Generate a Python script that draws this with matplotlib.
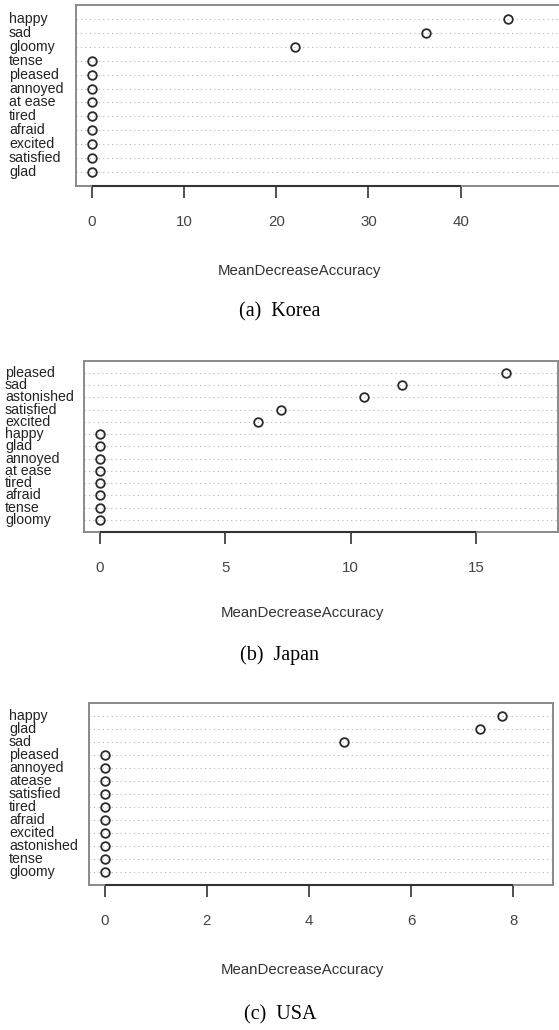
import matplotlib
matplotlib.use("Agg")
import matplotlib.pyplot as plt
from matplotlib.transforms import blended_transform_factory

# ---------------- data (top to bottom as displayed) ----------------
korea_labels = ["happy", "sad", "gloomy", "tense", "pleased", "annoyed",
                "at ease", "tired", "afraid", "excited", "satisfied", "glad"]
korea_values = [45.2, 36.3, 22.0, 0, 0, 0, 0, 0, 0, 0, 0, 0]
korea_ticks = [0, 10, 20, 30, 40]

japan_labels = ["pleased", "sad", "astonished", "satisfied", "excited", "happy",
                "glad", "annoyed", "at ease", "tired", "afraid", "tense", "gloomy"]
japan_values = [16.2, 12.05, 10.55, 7.23, 6.32, 0, 0, 0, 0, 0, 0, 0, 0]
japan_ticks = [0, 5, 10, 15]

usa_labels = ["happy", "glad", "sad", "pleased", "annoyed", "atease", "satisfied",
              "tired", "afraid", "excited", "astonished", "tense", "gloomy"]
usa_values = [7.78, 7.35, 4.68, 0, 0, 0, 0, 0, 0, 0, 0, 0, 0]
usa_ticks = [0, 2, 4, 6, 8]

captions = ["(a)  Korea", "(b)  Japan", "(c)  USA"]
xlabel = "MeanDecreaseAccuracy"

# ---------------- layout ----------------
W, H = 559, 1030
fig = plt.figure(figsize=(W / 100, H / 100), dpi=100)
fig.patch.set_facecolor("white")

SANS = ["Liberation Sans", "DejaVu Sans"]
SERIF = ["Liberation Serif", "DejaVu Serif"]

panels = [
    dict(labels=korea_labels, values=korea_values, ticks=korea_ticks,
         box=(76, 561, 5, 186), xlim=(-1.74, 50.9), lab_x=9,
         xl_y=271, cap_y=312, xl_x=299),
    dict(labels=japan_labels, values=japan_values, ticks=japan_ticks,
         box=(84, 558, 360.7, 532), xlim=(-0.638, 18.27), lab_x=5,
         xl_y=613, cap_y=655, xl_x=302),
    dict(labels=usa_labels, values=usa_values, ticks=usa_ticks,
         box=(89, 552.7, 702.5, 885), xlim=(-0.307, 8.77), lab_x=9,
         xl_y=970, cap_y=1015, xl_x=302),
]

for p, cap in zip(panels, captions):
    l, r, t, b = p["box"]
    ax = fig.add_axes([l / W, 1 - b / H, (r - l) / W, (b - t) / H])
    n = len(p["labels"])
    ypos = list(range(n, 0, -1))
    ax.set_xlim(*p["xlim"])
    ax.set_ylim(0, n + 1)

    ax.hlines(ypos, p["xlim"][0], p["xlim"][1], colors="#b5b5b5",
              linestyles=(0, (1, 3)), linewidth=0.8, zorder=1)
    ax.plot(p["values"], ypos, "o", mfc="none", mec="#2a2a2a", ms=6.2,
            mew=1.3, zorder=3, clip_on=False)

    for s in ax.spines.values():
        s.set_color("#8a8a8a")
        s.set_linewidth(1.4)
    # dark axis line from first to last tick
    ax.plot([p["ticks"][0], p["ticks"][-1]], [0, 0], color="#333333",
            lw=1.5, clip_on=False, zorder=4, solid_capstyle="butt")

    ax.set_yticks([])
    ax.set_xticks(p["ticks"])
    ax.set_xticklabels([str(v) for v in p["ticks"]], family=SANS,
                       fontsize=10.8, color="#444444")
    ax.tick_params(axis="x", direction="out", length=8.8, width=1.2,
                   color="#333333", pad=12)

    tr = blended_transform_factory(fig.transFigure, ax.transData)
    for lab, y in zip(p["labels"], ypos):
        ax.text(p["lab_x"] / W, y, lab, transform=tr, ha="left", va="center",
                family=SANS, fontsize=10.2, color="#222222")

    fig.text(p["xl_x"] / W, 1 - p["xl_y"] / H, xlabel, ha="center",
             va="center", family=SANS, fontsize=10.8, color="#333333")
    fig.text(280 / W, 1 - p["cap_y"] / H, cap, ha="center", va="center",
             family=SERIF, fontsize=14.5, color="#000000")

fig.savefig("out.png", dpi=100, facecolor="white")
